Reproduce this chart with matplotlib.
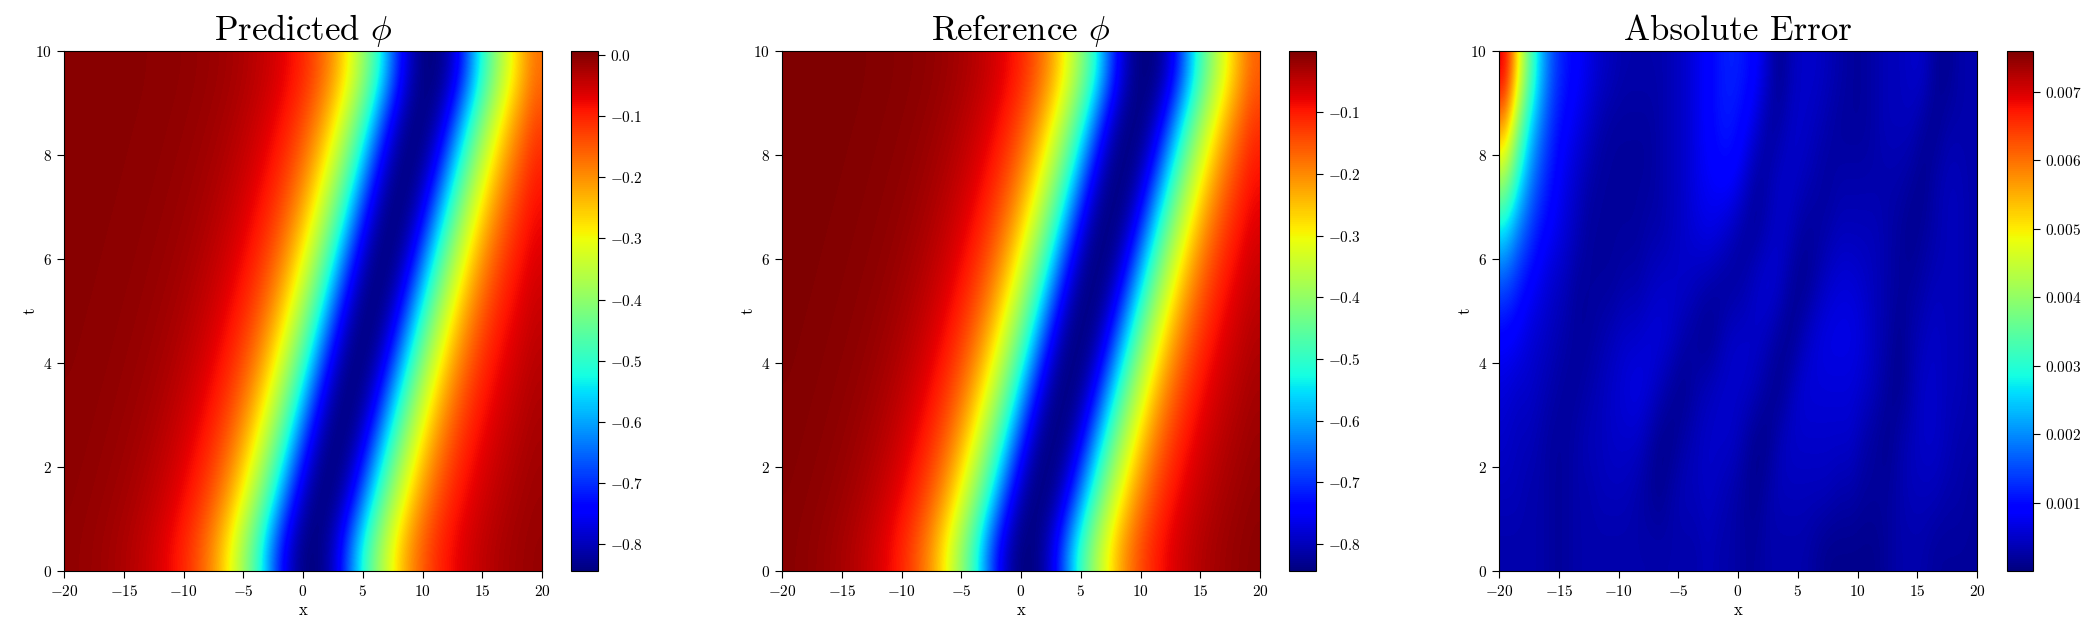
import numpy as np
import matplotlib
matplotlib.use("Agg")
import matplotlib.pyplot as plt

plt.rcParams['font.family'] = ['cmr10', 'DejaVu Sans']
plt.rcParams['mathtext.fontset'] = 'cm'
plt.rcParams['axes.formatter.use_mathtext'] = True
plt.rcParams['axes.unicode_minus'] = True

# Values: rows run from t = 10 (top) to t = 0 (bottom),
# columns from x = -20 to x = 20.
predicted = [
 [-.001,-.001,-.001,-.001,-.002,-.002,-.003,-.004,-.005,-.006,-.008,-.011,-.014,-.019,-.025,-.033,-.043,-.055,-.072,-.091,-.119,-.157,-.205,-.271,-.345,-.428,-.525,-.651,-.757,-.82,-.844,-.834,-.79,-.697,-.571,-.465,-.377,-.30,-.229,-.175],
 [-.001,-.001,-.001,-.002,-.002,-.003,-.004,-.005,-.006,-.008,-.011,-.014,-.019,-.025,-.033,-.043,-.055,-.072,-.091,-.119,-.157,-.205,-.271,-.345,-.428,-.525,-.651,-.757,-.82,-.844,-.834,-.79,-.697,-.571,-.465,-.377,-.30,-.229,-.175,-.133],
 [-.001,-.001,-.002,-.002,-.003,-.004,-.005,-.006,-.008,-.011,-.014,-.019,-.025,-.033,-.043,-.055,-.072,-.091,-.119,-.157,-.205,-.271,-.345,-.428,-.525,-.651,-.757,-.82,-.844,-.834,-.79,-.697,-.571,-.465,-.377,-.30,-.229,-.175,-.133,-.100],
 [-.001,-.002,-.002,-.003,-.004,-.005,-.006,-.008,-.011,-.014,-.019,-.025,-.033,-.043,-.055,-.072,-.091,-.119,-.157,-.205,-.271,-.345,-.428,-.525,-.651,-.757,-.82,-.844,-.834,-.79,-.697,-.571,-.465,-.377,-.30,-.229,-.175,-.133,-.100,-.079],
 [-.002,-.002,-.003,-.004,-.005,-.006,-.008,-.011,-.014,-.019,-.025,-.033,-.043,-.055,-.072,-.091,-.119,-.157,-.205,-.271,-.345,-.428,-.525,-.651,-.757,-.82,-.844,-.834,-.79,-.697,-.571,-.465,-.377,-.30,-.229,-.175,-.133,-.100,-.079,-.062],
 [-.002,-.003,-.004,-.005,-.006,-.008,-.011,-.014,-.019,-.025,-.033,-.043,-.055,-.072,-.091,-.119,-.157,-.205,-.271,-.345,-.428,-.525,-.651,-.757,-.82,-.844,-.834,-.79,-.697,-.571,-.465,-.377,-.30,-.229,-.175,-.133,-.100,-.079,-.062,-.048],
 [-.003,-.004,-.005,-.006,-.008,-.011,-.014,-.019,-.025,-.033,-.043,-.055,-.072,-.091,-.119,-.157,-.205,-.271,-.345,-.428,-.525,-.651,-.757,-.82,-.844,-.834,-.79,-.697,-.571,-.465,-.377,-.30,-.229,-.175,-.133,-.100,-.079,-.062,-.048,-.037],
 [-.004,-.005,-.006,-.008,-.011,-.014,-.019,-.025,-.033,-.043,-.055,-.072,-.091,-.119,-.157,-.205,-.271,-.345,-.428,-.525,-.651,-.757,-.82,-.844,-.834,-.79,-.697,-.571,-.465,-.377,-.30,-.229,-.175,-.133,-.100,-.079,-.062,-.048,-.037,-.028],
 [-.005,-.006,-.008,-.011,-.014,-.019,-.025,-.033,-.043,-.055,-.072,-.091,-.119,-.157,-.205,-.271,-.345,-.428,-.525,-.651,-.757,-.82,-.844,-.834,-.79,-.697,-.571,-.465,-.377,-.30,-.229,-.175,-.133,-.100,-.079,-.062,-.048,-.037,-.028,-.021],
 [-.006,-.008,-.011,-.014,-.019,-.025,-.033,-.043,-.055,-.072,-.091,-.119,-.157,-.205,-.271,-.345,-.428,-.525,-.651,-.757,-.82,-.844,-.834,-.79,-.697,-.571,-.465,-.377,-.30,-.229,-.175,-.133,-.100,-.079,-.062,-.048,-.037,-.028,-.021,-.016],
 [-.008,-.011,-.014,-.019,-.025,-.033,-.043,-.055,-.072,-.091,-.119,-.157,-.205,-.271,-.345,-.428,-.525,-.651,-.757,-.82,-.844,-.834,-.79,-.697,-.571,-.465,-.377,-.30,-.229,-.175,-.133,-.100,-.079,-.062,-.048,-.037,-.028,-.021,-.016,-.012],
]

reference = [
 [-.001,-.001,-.001,-.001,-.002,-.002,-.003,-.004,-.005,-.007,-.009,-.011,-.015,-.02,-.027,-.035,-.045,-.058,-.075,-.095,-.125,-.165,-.215,-.285,-.36,-.445,-.545,-.675,-.775,-.83,-.845,-.83,-.775,-.675,-.545,-.445,-.36,-.285,-.215,-.165],
 [-.001,-.001,-.001,-.002,-.002,-.003,-.004,-.005,-.007,-.009,-.011,-.015,-.02,-.027,-.035,-.045,-.058,-.075,-.095,-.125,-.165,-.215,-.285,-.36,-.445,-.545,-.675,-.775,-.83,-.845,-.83,-.775,-.675,-.545,-.445,-.36,-.285,-.215,-.165,-.125],
 [-.001,-.001,-.002,-.002,-.003,-.004,-.005,-.007,-.009,-.011,-.015,-.02,-.027,-.035,-.045,-.058,-.075,-.095,-.125,-.165,-.215,-.285,-.36,-.445,-.545,-.675,-.775,-.83,-.845,-.83,-.775,-.675,-.545,-.445,-.36,-.285,-.215,-.165,-.125,-.095],
 [-.001,-.002,-.002,-.003,-.004,-.005,-.007,-.009,-.011,-.015,-.02,-.027,-.035,-.045,-.058,-.075,-.095,-.125,-.165,-.215,-.285,-.36,-.445,-.545,-.675,-.775,-.83,-.845,-.83,-.775,-.675,-.545,-.445,-.36,-.285,-.215,-.165,-.125,-.095,-.075],
 [-.002,-.002,-.003,-.004,-.005,-.007,-.009,-.011,-.015,-.02,-.027,-.035,-.045,-.058,-.075,-.095,-.125,-.165,-.215,-.285,-.36,-.445,-.545,-.675,-.775,-.83,-.845,-.83,-.775,-.675,-.545,-.445,-.36,-.285,-.215,-.165,-.125,-.095,-.075,-.058],
 [-.002,-.003,-.004,-.005,-.007,-.009,-.011,-.015,-.02,-.027,-.035,-.045,-.058,-.075,-.095,-.125,-.165,-.215,-.285,-.36,-.445,-.545,-.675,-.775,-.83,-.845,-.83,-.775,-.675,-.545,-.445,-.36,-.285,-.215,-.165,-.125,-.095,-.075,-.058,-.045],
 [-.003,-.004,-.005,-.007,-.009,-.011,-.015,-.02,-.027,-.035,-.045,-.058,-.075,-.095,-.125,-.165,-.215,-.285,-.36,-.445,-.545,-.675,-.775,-.83,-.845,-.83,-.775,-.675,-.545,-.445,-.36,-.285,-.215,-.165,-.125,-.095,-.075,-.058,-.045,-.035],
 [-.004,-.005,-.007,-.009,-.011,-.015,-.02,-.027,-.035,-.045,-.058,-.075,-.095,-.125,-.165,-.215,-.285,-.36,-.445,-.545,-.675,-.775,-.83,-.845,-.83,-.775,-.675,-.545,-.445,-.36,-.285,-.215,-.165,-.125,-.095,-.075,-.058,-.045,-.035,-.027],
 [-.005,-.007,-.009,-.011,-.015,-.02,-.027,-.035,-.045,-.058,-.075,-.095,-.125,-.165,-.215,-.285,-.36,-.445,-.545,-.675,-.775,-.83,-.845,-.83,-.775,-.675,-.545,-.445,-.36,-.285,-.215,-.165,-.125,-.095,-.075,-.058,-.045,-.035,-.027,-.02],
 [-.007,-.009,-.011,-.015,-.02,-.027,-.035,-.045,-.058,-.075,-.095,-.125,-.165,-.215,-.285,-.36,-.445,-.545,-.675,-.775,-.83,-.845,-.83,-.775,-.675,-.545,-.445,-.36,-.285,-.215,-.165,-.125,-.095,-.075,-.058,-.045,-.035,-.027,-.02,-.015],
 [-.009,-.011,-.015,-.02,-.027,-.035,-.045,-.058,-.075,-.095,-.125,-.165,-.215,-.285,-.36,-.445,-.545,-.675,-.775,-.83,-.845,-.83,-.775,-.675,-.545,-.445,-.36,-.285,-.215,-.165,-.125,-.095,-.075,-.058,-.045,-.035,-.027,-.02,-.015,-.011],
]

# Absolute error, in units of 1e-4
error_e4 = [
 [70,52,36,24,15,11,9,7,5,4, 3,3,3,3,4,5,7,9,11,12, 11,9,5,1,4,5,5,4,3,2, 2,3,4,4,5,5,2,1,3,3],
 [56,40,27,18,12,9,7,5,3,2, 2,2,2,3,4,5,7,9,11,11, 9,6,2,3,5,5,4,3,2,2, 2,3,4,4,4,2,1,3,3,3],
 [41,30,20,14,10,7,5,3,2,2, 2,2,2,3,4,5,7,8,9,9, 6,2,3,5,5,4,3,2,3,3, 3,3,3,3,2,1,3,4,4,3],
 [26,19,14,10,8,6,4,2,2,2, 2,2,3,3,4,5,6,7,6,4, 2,2,4,5,4,2,2,3,4,4, 4,4,3,2,1,2,3,4,4,3],
 [15,12,9,7,5,4,2,2,2,2, 3,3,4,5,5,5,4,3,2,2, 3,5,6,5,2,1,3,5,6,6, 5,4,3,2,2,3,4,4,4,3],
 [9,8,6,5,4,3,2,2,3,4, 5,5,6,6,5,3,2,1,3,5, 5,5,4,2,1,4,6,7,7,7, 6,4,3,1,3,4,5,4,4,3],
 [6,5,5,4,3,2,2,3,4,5, 6,7,6,4,2,1,3,4,5,5, 5,4,2,1,4,6,6,6,6,6, 5,4,2,1,3,5,5,4,4,3],
 [5,4,4,3,2,2,3,4,4,5, 5,5,3,1,1,3,4,5,5,5, 3,1,1,4,5,5,5,5,5,5, 3,2,1,3,4,5,5,4,3,3],
 [4,4,3,3,2,2,3,3,4,4, 4,3,2,1,3,4,4,5,4,3, 2,1,3,4,4,4,4,4,3,3, 2,2,2,3,4,4,4,3,3,2],
 [3,3,3,3,2,2,3,3,3,3, 3,3,3,3,3,3,3,4,3,3, 2,2,3,3,3,3,2,1,1,1, 1,1,2,3,3,3,2,2,2,2],
]

titles = ['Predicted $\\phi$', 'Reference $\\phi$', 'Absolute Error']
x_ticks = [-20, -15, -10, -5, 0, 5, 10, 15, 20]
t_ticks = [0, 2, 4, 6, 8, 10]
phi_ticks_pred = [0.0, -0.1, -0.2, -0.3, -0.4, -0.5, -0.6, -0.7, -0.8]
phi_ticks_ref = [-0.1, -0.2, -0.3, -0.4, -0.5, -0.6, -0.7, -0.8]
err_ticks = [0.001, 0.002, 0.003, 0.004, 0.005, 0.006, 0.007]
ranges = [(-0.844, 0.0065), (-0.844, -0.0003), (0.0, 0.0076)]

W, H = 2094, 625
fig = plt.figure(figsize=(W / 100, H / 100), dpi=100)


def rect(l, r, t=51, b=571):
    return [l / W, 1 - b / H, (r - l) / W, (b - t) / H]


boxes = [(64, 542, 571, 598), (782, 1260, 1289, 1316), (1499, 1977, 2007, 2033)]
fields = [np.array(predicted), np.array(reference), np.array(error_e4) * 1e-4]
cticks = [phi_ticks_pred, phi_ticks_ref, err_ticks]

for box, field, title, rng, ct in zip(boxes, fields, titles, ranges, cticks):
    ax = fig.add_axes(rect(box[0], box[1]))
    im = ax.imshow(field, cmap='jet', vmin=rng[0], vmax=rng[1], aspect='auto',
                   origin='upper', extent=[-20, 20, 0, 10], interpolation='bicubic')
    ax.set_xticks(x_ticks)
    ax.set_yticks(t_ticks)
    ax.tick_params(axis='x', labelsize=11, length=4.7, width=0.8, pad=4.5)
    ax.tick_params(axis='y', labelsize=11, length=4.7, width=0.8, pad=4)
    ax.set_xlabel('x', fontsize=12, labelpad=3)
    ax.set_ylabel('t', fontsize=12, labelpad=-2)
    ax.set_title(title, fontsize=25, pad=8)
    cax = fig.add_axes(rect(box[2], box[3]))
    cb = fig.colorbar(im, cax=cax)
    cb.set_ticks(ct)
    cb.ax.tick_params(labelsize=11, length=4.7, width=0.8, pad=4)

fig.savefig('out.png', dpi=100)
